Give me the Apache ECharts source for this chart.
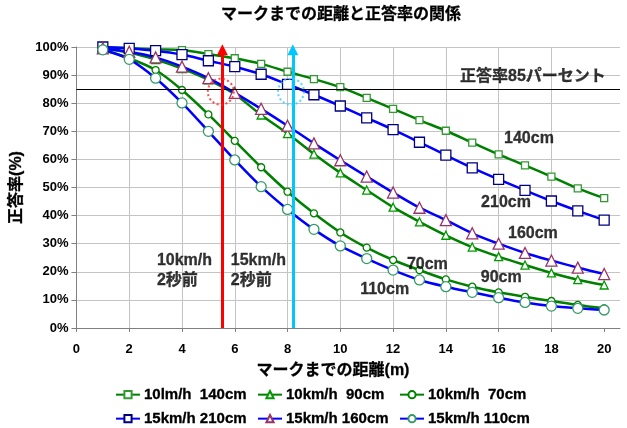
<!DOCTYPE html>
<html>
<head>
<meta charset="utf-8">
<script src="https://cdn.jsdelivr.net/npm/echarts@6/dist/echarts.min.js"></script>
<style>
  html, body { margin: 0; padding: 0; background: #ffffff; }
  #chart { width: 627px; height: 428px; }
</style>
</head>
<body>
<div id="chart"></div>
<script>
// Distance to the mark (m)
const distances = [1, 2, 3, 4, 5, 6, 7, 8, 9, 10, 11, 12, 13, 14, 15, 16, 17, 18, 19, 20];

// Correct-answer rate (%) per distance
const rate10kmh140cm = [100, 99.6, 99.2, 98.9, 97.5, 96, 94, 91.2, 88.6, 85.7, 81.9, 78, 74, 70.2, 66, 61.8, 57.9, 53.9, 49.7, 46.2];
const rate10kmh90cm  = [99.5, 98, 95.5, 92.3, 88.3, 83.2, 75.8, 69.2, 61.9, 55.2, 49.1, 43, 37.8, 33, 28.8, 25.4, 22.4, 19.6, 17.2, 15.3];
const rate10kmh70cm  = [99, 96, 91.8, 84.7, 76, 66.6, 57.2, 48.5, 40.8, 34, 28.6, 24.2, 20.6, 17.3, 14.7, 12.7, 11.1, 9.6, 8.2, 7.0];
const rate15kmh210cm = [100, 99.5, 98.7, 97.3, 95.1, 93, 90.3, 86.7, 83, 79, 74.8, 70.6, 66.1, 61.5, 57, 52.9, 49, 45.2, 41.7, 38.4];
const rate15kmh160cm = [99.5, 98.3, 96.3, 93, 88.9, 83.7, 78, 72, 65.7, 59.7, 53.9, 48.2, 42.8, 38.4, 33.7, 30, 26.7, 24, 21.5, 19.2];
const rate15kmh110cm = [99, 95.6, 88.9, 80.1, 70, 59.8, 50.3, 42.2, 35.1, 29.2, 24.7, 20.6, 17.1, 14.7, 12.7, 10.8, 9.1, 7.8, 7.0, 6.4];

// Axis ticks
const xTickLabels = [0, 2, 4, 6, 8, 10, 12, 14, 16, 18, 20];
const yTickLabels = [0, 10, 20, 30, 40, 50, 60, 70, 80, 90, 100];

// Reference level and the distances covered in 2 seconds
const targetRate = 85;
const twoSec10kmh = 5.53;
const twoSec15kmh = 8.2;

const FONT = '"Liberation Sans", "Noto Sans CJK JP", sans-serif';
const GREEN = '#008000';
const BLUE = '#0000ff';

function pairs(values) {
  return distances.map((d, i) => [d, values[i]]);
}

function curve(name, values, lineColor, symbol, size, border) {
  return {
    name: name,
    type: 'line',
    data: pairs(values),
    smooth: 0.3,
    symbol: symbol,
    symbolSize: size,
    showAllSymbol: true,
    lineStyle: { color: lineColor, width: 2.5 },
    itemStyle: { color: '#ffffff', borderColor: border, borderWidth: 1.3 },
    emphasis: { disabled: true },
    z: 3
  };
}

const boldText = { fontFamily: FONT, fontWeight: 'bold', color: '#000', textBorderColor: '#000', textBorderWidth: 0.3 };

const seriesNames = [
  '10lm/h  140cm', '10km/h  90cm', '10km/h  70cm',
  '15km/h 210cm', '15km/h 160cm', '15km/h 110cm'
];

const legendCols = [115, 257, 399];
const legendRows = [387, 411];
const legends = seriesNames.map((n, i) => ({
  data: [n],
  left: legendCols[i % 3],
  top: legendRows[Math.floor(i / 3)],
  padding: 0,
  itemWidth: 24,
  itemHeight: 9,
  itemGap: 0,
  selectedMode: false,
  textStyle: Object.assign({ fontSize: 15, padding: [0, 0, 0, -1] }, boldText)
}));

const chart = echarts.init(document.getElementById('chart'), null, { renderer: 'canvas' });

chart.setOption({
  animation: false,
  backgroundColor: '#ffffff',
  title: [
    {
      text: 'マークまでの距離と正答率の関係',
      left: 341, top: 7, padding: 0, textAlign: 'center',
      textStyle: Object.assign({ fontSize: 16 }, boldText)
    },
    {
      text: 'マークまでの距離(m)',
      left: 333, top: 363, padding: 0, textAlign: 'center',
      textStyle: Object.assign({ fontSize: 16 }, boldText)
    }
  ],
  legend: legends,
  grid: { left: 73.5, right: 7, top: 47, bottom: 100, containLabel: false },
  xAxis: {
    type: 'value',
    min: 0, max: 20.6, interval: 1,
    axisLine: { show: true, lineStyle: { color: '#808080', width: 1 } },
    axisTick: { show: true, inside: false, length: 4, customValues: xTickLabels, lineStyle: { color: '#808080' } },
    axisLabel: { customValues: xTickLabels, margin: 15, fontFamily: FONT, fontWeight: 'bold', fontSize: 13, color: '#000' },
    splitLine: { show: true, showMaxLine: false, lineStyle: { color: '#c4c4c4', width: 1 } }
  },
  yAxis: {
    type: 'value',
    min: 0, max: 100, interval: 10,
    name: '正答率(%)',
    nameLocation: 'middle',
    nameGap: 50,
    nameTextStyle: Object.assign({ fontSize: 16 }, boldText),
    axisLine: { show: true, lineStyle: { color: '#808080', width: 1 } },
    axisTick: { show: true, inside: false, length: 5, customValues: yTickLabels, lineStyle: { color: '#808080' } },
    axisLabel: { customValues: yTickLabels, formatter: '{value}%', margin: 8, fontFamily: FONT, fontWeight: 'bold', fontSize: 13, color: '#000' },
    splitLine: { show: true, lineStyle: { color: '#c4c4c4', width: 1 } }
  },
  series: [
    curve(seriesNames[0], rate10kmh140cm, GREEN, 'rect', 7, '#339933'),
    curve(seriesNames[1], rate10kmh90cm, GREEN, 'triangle', 8, '#009900'),
    curve(seriesNames[2], rate10kmh70cm, GREEN, 'circle', 7, '#008000'),
    curve(seriesNames[3], rate15kmh210cm, BLUE, 'rect', 10, '#000080'),
    curve(seriesNames[4], rate15kmh160cm, BLUE, 'triangle', 11, '#993366'),
    curve(seriesNames[5], rate15kmh110cm, BLUE, 'circle', 10, '#339966'),
    {
      // 85% reference line and the 2-second arrows
      name: 'guides',
      type: 'scatter',
      data: [],
      z: 5,
      silent: true,
      markLine: {
        silent: true,
        animation: false,
        label: { show: false },
        emphasis: { disabled: true },
        data: [
          [
            { coord: [0, targetRate], symbol: 'none' },
            { coord: [20.6, targetRate], symbol: 'none' }
          ],
          [
            { coord: [twoSec10kmh, 0], symbol: 'none', lineStyle: { color: '#ff0000', width: 3, type: 'solid' } },
            { coord: [twoSec10kmh, 99], symbol: 'triangle', symbolSize: [11, 11] }
          ],
          [
            { coord: [twoSec15kmh, 0], symbol: 'none', lineStyle: { color: '#00c8ff', width: 3, type: 'solid' } },
            { coord: [twoSec15kmh, 99], symbol: 'triangle', symbolSize: [11, 11] }
          ]
        ],
        lineStyle: { color: '#000000', width: 1, type: 'solid' }
      }
    },
    {
      // Dotted rings where the arrows cross the 85% line
      name: 'rings',
      type: 'scatter',
      silent: true,
      z: 6,
      symbol: 'circle',
      symbolSize: 26,
      data: [
        { value: [5.47, 84.1], itemStyle: { color: 'rgba(0,0,0,0)', borderColor: '#ff2020', borderWidth: 2, borderType: [2, 2.5] } },
        { value: [8.13, 84.1], itemStyle: { color: 'rgba(0,0,0,0)', borderColor: '#30d0ff', borderWidth: 2, borderType: [2, 2.5] } }
      ]
    },
    {
      // Text annotations
      name: 'notes',
      type: 'scatter',
      silent: true,
      z: 7,
      symbolSize: 0,
      label: Object.assign({ show: true, position: 'inside', fontSize: 16, formatter: p => p.data.text }, boldText),
      data: [
        { value: [17.3, 89.3], text: '正答率85パーセント', label: { fontSize: 16 } },
        { value: [17.15, 67.3], text: '140cm' },
        { value: [16.28, 44.8], text: '210cm' },
        { value: [17.3, 33.5], text: '160cm' },
        { value: [13.3, 22.4], text: '70cm' },
        { value: [16.1, 18.1], text: '90cm' },
        { value: [11.68, 13.5], text: '110cm' },
        { value: [3.05, 20.3], text: '10km/h\n2秒前', label: { position: 'right', distance: 0, align: 'left', lineHeight: 20 } },
        { value: [5.85, 20.3], text: '15km/h\n2秒前', label: { position: 'right', distance: 0, align: 'left', lineHeight: 20 } }
      ]
    }
  ]
});
</script>
</body>
</html>
